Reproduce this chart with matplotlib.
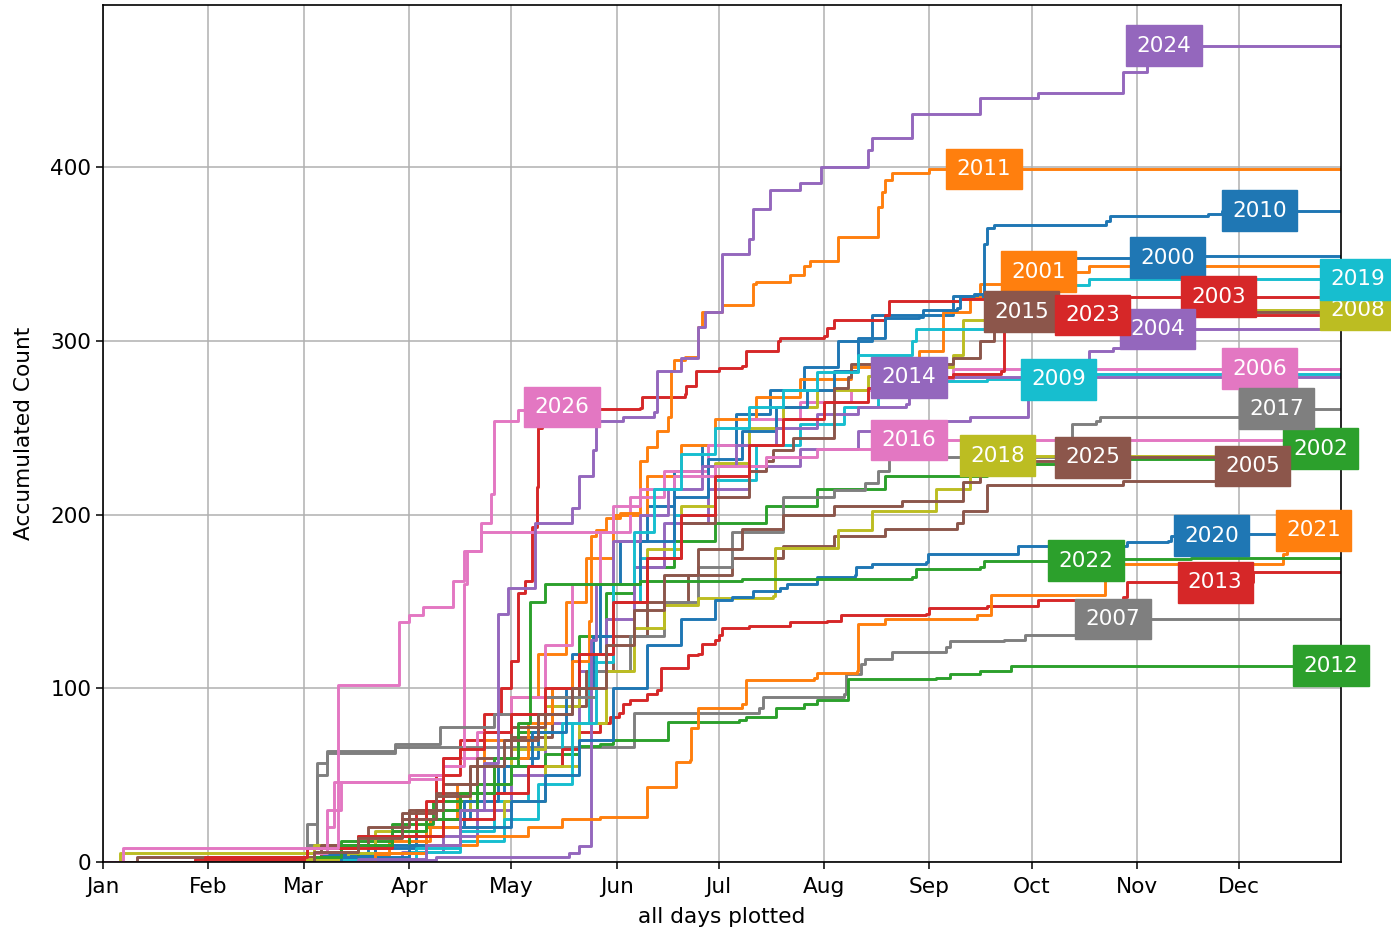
import matplotlib
matplotlib.use("Agg")
import matplotlib.pyplot as plt
import numpy as np

# ---------------- data (day of year, accumulated count) ----------------
years = list(range(2000, 2027))

d2000 = [0, 64, 78, 92, 100, 108, 118, 128, 138, 146, 152, 160, 168, 176, 186, 196, 206, 216, 226, 250, 268, 278, 320]
c2000 = [0, 3, 8, 15, 25, 40, 60, 85, 120, 160, 185, 205, 225, 240, 258, 272, 285, 300, 315, 326, 340, 348, 349]

d2001 = [0, 66, 84, 96, 104, 112, 120, 128, 136, 142, 150, 160, 170, 180, 192, 205, 220, 240, 247, 255, 258, 268, 290]
c2001 = [0, 4, 12, 25, 45, 70, 95, 120, 150, 175, 200, 222, 240, 255, 268, 278, 285, 294, 317, 325, 333, 340, 343]

d2002 = [0, 60, 70, 85, 97, 110, 122, 132, 140, 148, 156, 168, 180, 195, 210, 230, 260, 300, 352]
c2002 = [0, 5, 12, 22, 35, 55, 75, 100, 130, 155, 170, 185, 195, 205, 215, 222, 229, 232, 238]

d2003 = [0, 58, 62, 80, 92, 98, 105, 112, 117, 120, 122, 124, 126, 127.5, 128, 129, 158, 158.5, 171, 171.5, 174.5, 181, 188, 189, 198.6, 199, 212, 213, 215, 230, 231, 252, 300]
c2003 = [0, 0, 5, 15, 30, 50, 70, 85, 100, 116, 155, 162, 193, 216, 250, 260.7, 261.6, 268, 269.5, 274, 283, 284.6, 285.6, 294, 300, 302, 303, 307.6, 312, 315, 323, 324, 325.5]

d2004 = [0, 70, 88, 100, 110, 120, 130, 140, 148, 156, 165, 178, 190, 205, 222, 240, 255, 272, 276, 290, 297, 300, 305]
c2004 = [0, 2, 6, 15, 30, 50, 80, 110, 140, 170, 195, 215, 228, 238, 248, 254, 256, 267, 287, 294, 296, 302, 307]

d2005 = [0, 38, 62, 75, 88, 98, 108, 120, 132, 142, 150, 160, 172, 185, 200, 215, 230, 251, 253, 260, 300, 336]
c2005 = [0, 2, 6, 15, 28, 40, 55, 72, 90, 110, 130, 150, 165, 175, 182, 188, 192, 195, 202, 217, 219.5, 228]

d2006 = [0, 60, 66, 70, 90, 100, 110, 120, 130, 138, 146, 155, 165, 178, 190, 205, 220, 235, 250]
c2006 = [0, 8, 30, 46, 50, 60, 75, 95, 125, 160, 190, 210, 225, 240, 255, 265, 272, 278, 284]

d2007 = [0, 58, 60, 63, 66, 86, 156, 183, 193, 194, 218, 218.5, 223, 224, 232, 248, 249, 265, 271, 290]
c2007 = [0, 0, 10, 50, 63, 66, 86, 86, 88.5, 95, 97, 108, 114, 117, 121, 124, 127, 128, 131, 140]

d2008 = [0, 5, 50, 62, 80, 95, 108, 120, 130, 140, 150, 160, 170, 180, 190, 200, 210, 225, 240, 250, 253, 270, 320]
c2008 = [0, 5, 5, 10, 18, 30, 45, 65, 90, 120, 150, 180, 205, 230, 250, 262, 272, 280, 285, 292, 312, 315, 318]

d2009 = [0, 72, 92, 105, 115, 125, 135, 143, 150, 158, 168, 180, 192, 205, 218, 228, 238, 260, 285]
c2009 = [0, 2, 8, 18, 35, 55, 80, 115, 150, 175, 200, 220, 240, 252, 262, 270, 277, 278, 281]

d2010 = [0, 64, 80, 95, 106, 116, 126, 136, 144, 150, 158, 168, 178, 188, 198, 207, 215, 222, 230, 240, 241, 251, 252, 256, 259, 260, 262, 295, 296, 325, 329]
c2010 = [0, 4, 10, 20, 35, 55, 75, 100, 130, 160, 185, 210, 232, 248, 262, 272, 283, 302, 313, 314, 318, 319, 326, 327, 356, 365, 367, 369, 372, 373, 375]

d2011 = [0, 70, 80, 95, 105, 115, 125, 132, 138, 143, 143.6, 145, 148, 152, 158, 160, 163, 166, 167, 168, 171, 175, 176, 182, 191, 192, 202, 206, 208, 216, 228, 229, 230, 232, 243]
c2011 = [0, 0, 5, 20, 40, 60, 80, 100, 116, 139, 188, 191, 198, 201, 231, 239, 248, 256, 283, 289, 291, 308, 317, 321, 333, 334, 338, 343, 346, 360, 377, 386, 393, 397, 399]

d2012 = [0, 65, 75, 90, 100, 110, 120, 130, 140, 146, 150, 166, 187, 189, 198, 206, 210, 219, 245, 249, 258, 267]
c2012 = [0, 0, 5, 15, 30, 45, 55, 62, 67, 68, 70, 80.6, 81.6, 83.5, 88.5, 91, 93, 105.6, 106, 108, 110, 113]

d2013 = [0, 27, 60, 70, 85, 100, 115, 125, 135, 140, 146, 149, 151.6, 153, 155, 160, 163, 164, 172, 175, 176, 180, 181, 182, 190, 202, 213, 217, 242, 243, 260, 275, 300, 301, 338]
c2013 = [0, 2, 2, 8, 15, 25, 40, 55, 65, 75, 80, 83.5, 85.6, 91, 93, 97, 99, 112, 119, 120, 125.6, 127.6, 131, 135, 136, 138, 139, 142, 143, 146, 147.7, 150.6, 152.5, 161, 167]

d2014 = [0, 60, 98, 137, 140, 143.6, 145, 150, 158, 166, 176, 186, 198, 210, 222, 236, 237]
c2014 = [0, 1, 3, 5, 9, 128, 160, 185, 200, 215, 228, 240, 250, 258, 262, 264, 279]

d2015 = [0, 10, 64, 78, 90, 100, 110, 120, 130, 140, 150, 160, 170, 180, 190, 195, 197, 203, 215, 219, 220, 250, 258, 262, 266]
c2015 = [0, 3, 10, 20, 30, 45, 60, 78, 95, 120, 150, 175, 195, 210, 225, 231, 237, 244, 273, 279, 287, 290, 300, 310, 317]

d2016 = [0, 62, 66, 68, 90, 100, 106, 107, 111, 146, 150, 158, 168, 180, 195, 210, 226]
c2016 = [0, 5, 20, 46, 48, 55, 160, 179, 190, 190, 205, 215, 222, 228, 233, 238, 243]

d2017 = [0, 58, 60, 63, 66, 86, 99, 115, 130, 145, 155, 165, 175, 185, 200, 215, 224, 228, 231, 283, 285, 292, 293, 340]
c2017 = [0, 0, 22, 57, 64, 68, 78, 85, 95, 110, 130, 150, 170, 190, 210, 214, 218, 225, 233, 236, 252, 254, 256, 261]

d2018 = [0, 60, 72, 90, 105, 118, 130, 140, 148, 156, 165, 175, 197, 197.5, 216, 226, 245, 255, 262]
c2018 = [0, 2, 5, 10, 20, 35, 55, 80, 110, 135, 148, 152, 153, 181, 191, 202, 215, 223, 234]

d2019 = [0, 70, 90, 105, 118, 128, 138, 145, 150, 156, 162, 170, 180, 190, 200, 210, 222, 238, 239, 260, 280, 285, 290]
c2019 = [0, 2, 6, 12, 25, 45, 80, 120, 160, 190, 215, 235, 250, 262, 272, 282, 292, 300, 307, 310, 330, 332.5, 335.5]

d2020 = [0, 60, 70, 90, 105, 120, 130, 140, 150, 160, 170, 180, 185, 191, 199, 201, 210, 221, 221.5, 226, 242, 242.5, 269, 301, 313, 314, 330]
c2020 = [0, 0, 3, 10, 20, 35, 50, 70, 100, 125, 140, 150.6, 152.5, 156, 158, 160, 164, 165, 169.7, 171.6, 172.6, 177.5, 182, 184, 185, 188, 189]

d2021 = [0, 70, 80, 95, 110, 125, 135, 146, 160, 168.6, 172.6, 173, 175, 188, 189, 209, 210, 221.6, 222, 230, 257, 261, 294.7, 295, 347, 348]
c2021 = [0, 0, 5, 10, 15, 20, 25, 26, 43, 57.6, 58.6, 77, 88.5, 91, 105, 106, 109, 110, 137, 140, 142, 154, 164, 171.6, 177.6, 191]

d2022 = [0, 62, 70, 85, 95, 105, 115, 122, 125.5, 130, 158, 188, 238, 239, 258, 259, 300, 320]
c2022 = [0, 3, 10, 18, 25, 40, 60, 80, 150, 160, 162, 163, 164, 168.7, 169.7, 173.6, 174.5, 175]

d2023 = [0, 30, 60, 75, 88, 95, 100, 105, 112, 120, 130, 140, 150, 160, 170, 180, 190, 200, 212, 225, 240, 250, 264, 265, 280]
c2023 = [0, 3, 8, 15, 25, 35, 60, 65, 75, 85, 100, 120, 150, 175, 200, 222, 240, 255, 265, 273, 279, 281, 283, 312, 315]

d2024 = [0, 75, 95, 105, 112, 116, 119, 127, 138, 140, 144, 145, 153, 162, 163, 170, 175, 177, 182, 190, 191, 196, 205, 211, 225, 226, 238, 258, 275, 300, 307]
c2024 = [0, 2, 10, 30, 57, 143, 158, 195, 204, 222, 237, 254, 256, 259, 283, 290, 308, 317, 350, 359, 376, 387, 391, 400, 410, 417, 431, 440, 443, 455, 470]

d2025 = [0, 62, 75, 88, 98, 108, 118, 128, 138, 148, 156, 165, 175, 188, 200, 215, 235, 253, 258, 285]
c2025 = [0, 6, 14, 25, 38, 55, 70, 85, 100, 125, 145, 165, 180, 192, 200, 205, 208, 219, 231, 233]

d2026 = [0, 6, 63, 69, 87, 90, 94, 103, 106, 111, 114, 115, 122, 125]
c2026 = [0, 8, 8, 102, 138, 142, 147, 162, 179, 195, 212, 254, 260, 262]

end_days = [364] * 26 + [135]
label_days = [313, 275, 358, 328, 310, 338, 340, 297, 369, 281,
              340, 259, 361, 327, 237, 270, 237, 345, 263, 369,
              326, 356, 289, 291, 312, 291, 135]

month_days = [0, 31, 59, 90, 120, 151, 181, 212, 243, 273, 304, 334]
month_labels = ["Jan", "Feb", "Mar", "Apr", "May", "Jun",
                "Jul", "Aug", "Sep", "Oct", "Nov", "Dec"]

series = [
    (d2000, c2000), (d2001, c2001), (d2002, c2002), (d2003, c2003), (d2004, c2004),
    (d2005, c2005), (d2006, c2006), (d2007, c2007), (d2008, c2008), (d2009, c2009),
    (d2010, c2010), (d2011, c2011), (d2012, c2012), (d2013, c2013), (d2014, c2014),
    (d2015, c2015), (d2016, c2016), (d2017, c2017), (d2018, c2018), (d2019, c2019),
    (d2020, c2020), (d2021, c2021), (d2022, c2022), (d2023, c2023), (d2024, c2024),
    (d2025, c2025), (d2026, c2026),
]

# ---------------- figure ----------------
fig = plt.figure(figsize=(13.91, 9.31), dpi=100)
ax = fig.add_axes([103 / 1391, 69 / 931, (1341 - 103) / 1391, (862 - 5) / 931])

FS = 15.6
lines = []
for (d, c), end in zip(series, end_days):
    x = list(d) + [end]
    y = list(c) + [c[-1]]
    ln, = ax.step(x, y, where="post", linewidth=2.1)
    lines.append(ln)

for yr, (d, c), ld, ln in zip(years, series, label_days, lines):
    idx = np.searchsorted(np.asarray(d, dtype=float), ld, side="right") - 1
    yv = c[max(idx, 0)]
    col = ln.get_color()
    ax.text(ld, yv, str(yr), color="white", fontsize=15.5, ha="center", va="center",
            clip_on=False, zorder=5,
            bbox=dict(boxstyle="square,pad=0.48", fc=col, ec=col))

ax.set_xlim(0, 364)
ax.set_ylim(bottom=0)
ax.set_xticks(month_days)
ax.set_xticklabels(month_labels)
ax.set_yticks([0, 100, 200, 300, 400])
ax.grid(True, color="#b0b0b0", linewidth=1.1)
ax.tick_params(labelsize=FS, length=5, width=1.1)
ax.tick_params(axis="x", pad=6)
for s in ax.spines.values():
    s.set_linewidth(1.2)
ax.set_xlabel("all days plotted", fontsize=FS, labelpad=7)
ax.set_ylabel("Accumulated Count", fontsize=FS, labelpad=12)

fig.savefig("out.png", dpi=100)
